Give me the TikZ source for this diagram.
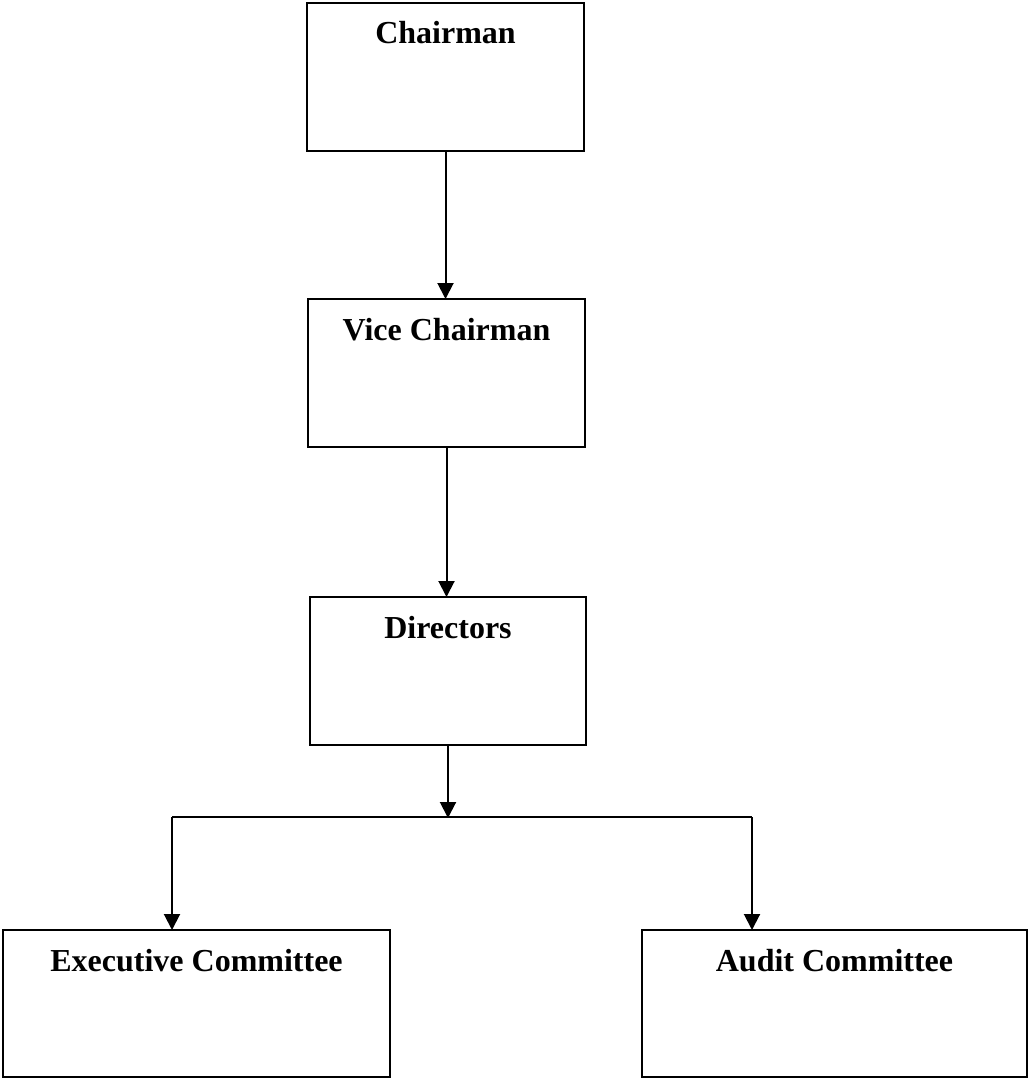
\documentclass[tikz,border=0pt]{standalone}
\usepackage{fontspec}
\setmainfont{Liberation Serif}
\usetikzlibrary{arrows.meta,calc}
\begin{document}
\begin{tikzpicture}[x=1pt,y=-1pt,
  box/.style={draw, line width=2pt, rectangle, inner sep=0pt, anchor=north west},
  title/.style={anchor=base, inner sep=0pt, font=\bfseries\fontsize{32}{38}\selectfont},
  link/.style={line width=2pt},
  arr/.style={line width=2pt, -{Triangle[width=16pt,length=16pt]}, shorten >=-1pt}]
\useasboundingbox (0,0) rectangle (1028,1078);
% boxes
\node[box, minimum width=277pt, minimum height=148pt] (ch) at (306,2) {};
\node[box, minimum width=277pt, minimum height=148pt] (vc) at (307,298) {};
\node[box, minimum width=276pt, minimum height=148pt] (dir) at (309,596) {};
\node[box, minimum width=387pt, minimum height=147pt] (ex) at (2,929) {};
\node[box, minimum width=385pt, minimum height=147pt] (au) at (641,929) {};
% titles
\node[title] (tch) at ($(ch.north)+(0,42)$) {Chairman};
\node[title] (tvc) at ($(vc.north)+(0,42)$) {Vice Chairman};
\node[title] (tdir) at ($(dir.north)+(0,42)$) {Directors};
\node[title] (tex) at ($(ex.north)+(0,42)$) {Executive Committee};
\node[title] (tau) at ($(au.north)+(0,42)$) {Audit Committee};
% connectors
\draw[arr] (ch.south) -- (ch.south |- vc.north);
\draw[arr] (vc.south) -- (vc.south |- dir.north);
\coordinate (bus) at (448,817);
\coordinate (bl) at (172,817);
\coordinate (br) at (752,817);
\draw[arr] (dir.south) -- (bus);
\draw[link] (bl) -- (br);
\draw[arr] (bl) -- (bl |- ex.north);
\draw[arr] (br) -- (br |- au.north);
\end{tikzpicture}
\end{document}
